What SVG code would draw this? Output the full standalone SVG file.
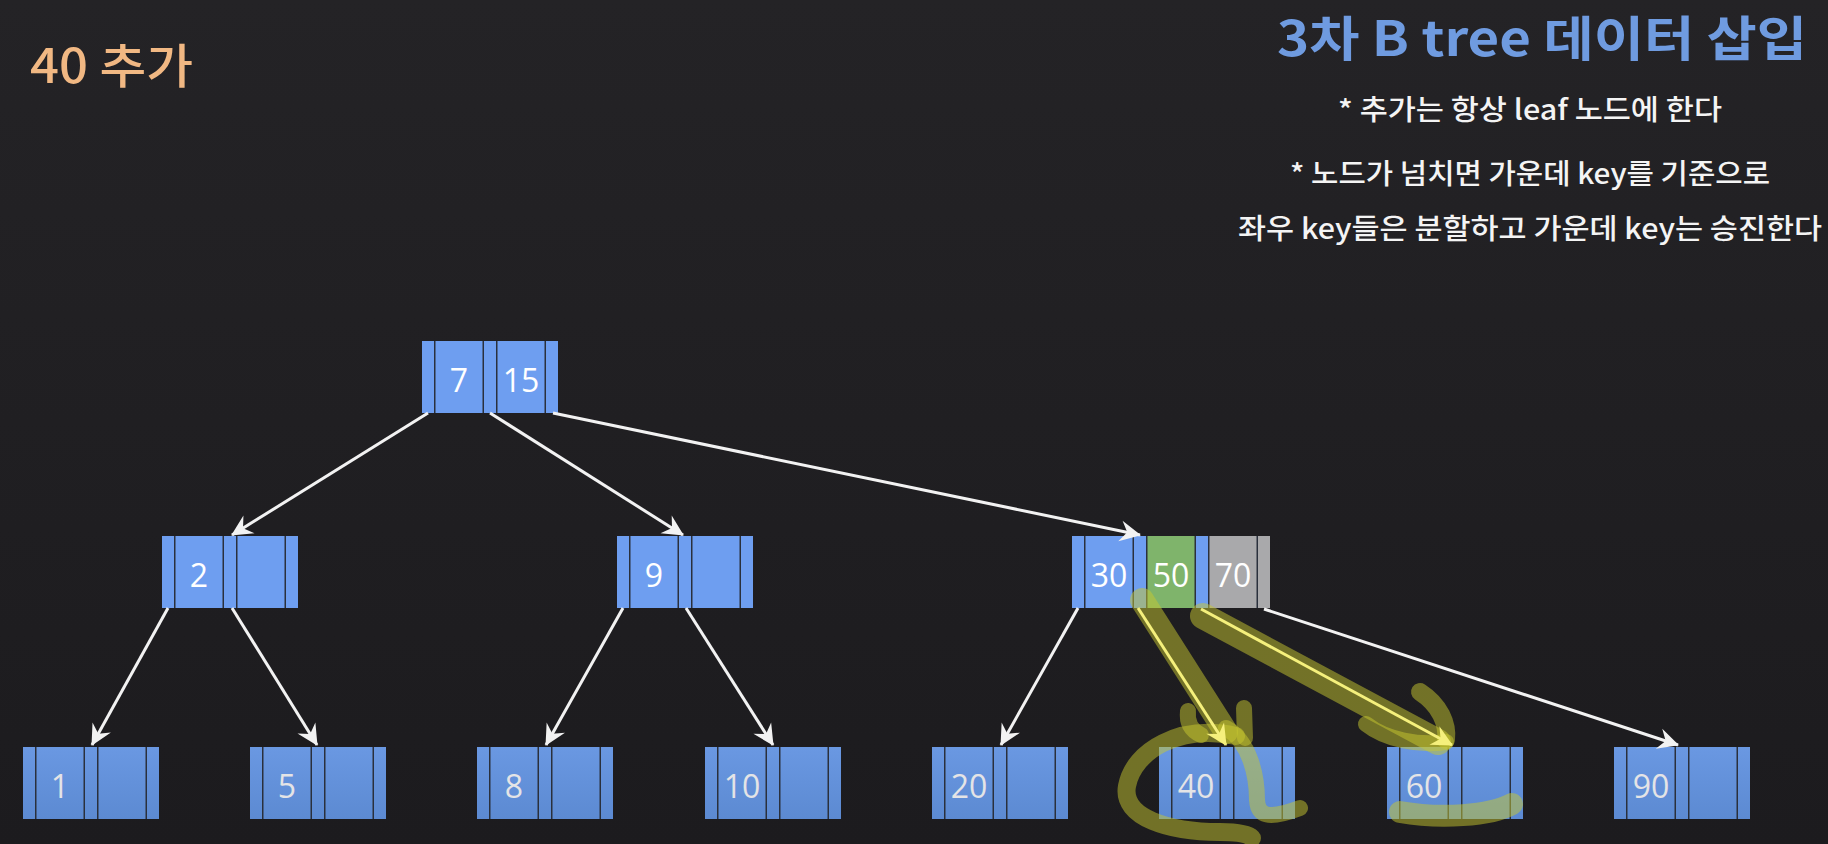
<svg xmlns="http://www.w3.org/2000/svg" width="1828" height="844" viewBox="0 0 1828 844">
<defs>
<linearGradient id="bg" x1="0" y1="0" x2="0" y2="1">
<stop offset="0" stop-color="#242326"/>
<stop offset="1" stop-color="#1c1b1e"/>
</linearGradient>
<linearGradient id="leafg" x1="0" y1="0" x2="0" y2="1">
<stop offset="0" stop-color="#6a98e2"/>
<stop offset="1" stop-color="#5c8ad2"/>
</linearGradient>
<marker id="ah" viewBox="-22 -12 24 24" refX="0" refY="0" markerWidth="24" markerHeight="24" markerUnits="userSpaceOnUse" orient="auto">
<path d="M1,0 L-20,-10.5 L-13,0 L-20,10.5 Z" fill="#f2f2f2"/>
</marker>
<marker id="ahy" viewBox="-22 -12 24 24" refX="0" refY="0" markerWidth="24" markerHeight="24" markerUnits="userSpaceOnUse" orient="auto">
<path d="M1,0 L-20,-10.5 L-13,0 L-20,10.5 Z" fill="#f5f07c"/>
</marker>
<style>
.frame{fill:#2a303c}
.up{fill:#6e9ef0}
.lf{fill:url(#leafg)}
.green{fill:#7fb46b}
.gray{fill:#a9a9ab}
.kt{font-family:"Open Sans","Liberation Sans",sans-serif;font-size:32px;fill:#ffffff;text-anchor:middle}
.lt{font-family:"Open Sans","Liberation Sans",sans-serif;font-size:32px;fill:#e4e4e6;text-anchor:middle}
.edge{stroke:#f2f2f2;stroke-width:3;fill:none;marker-end:url(#ah)}
.yedge{stroke:#f5f07c;stroke-width:3;fill:none;marker-end:url(#ahy)}
.hl{stroke:#c8c830;stroke-opacity:0.5;fill:none;stroke-linecap:round;stroke-linejoin:round}
.note{font-family:"Noto Sans CJK KR","Noto Sans",sans-serif;font-size:28px;font-weight:500;fill:#f4f4f4;text-anchor:middle}
</style>
</defs>
<rect x="0" y="0" width="1828" height="844" fill="url(#bg)"/>

<g id="texts">
<text x="30" y="83" font-family="Noto Sans CJK KR, Noto Sans, sans-serif" font-size="47" font-weight="500" fill="#f1b883" textLength="163" lengthAdjust="spacingAndGlyphs">40 추가</text>
<text x="1277" y="56" font-family="Noto Sans CJK KR, Noto Sans, sans-serif" font-size="48" font-weight="bold" fill="#6f9be0" textLength="530" lengthAdjust="spacingAndGlyphs">3차 B tree 데이터 삽입</text>
<text class="note" x="1530" y="120" textLength="384" lengthAdjust="spacingAndGlyphs">* 추가는 항상 leaf 노드에 한다</text>
<text class="note" x="1530" y="184" textLength="480" lengthAdjust="spacingAndGlyphs">* 노드가 넘치면 가운데 key를 기준으로</text>
<text class="note" x="1530" y="239" textLength="584" lengthAdjust="spacingAndGlyphs">좌우 key들은 분할하고 가운데 key는 승진한다</text>
</g>

<g id="node-root" transform="translate(422,341)">
<rect class="frame" x="0" y="0" width="136" height="72"/>
<rect class="up" x="0" y="0" width="12" height="72"/>
<rect class="up" x="13.5" y="0" width="47" height="72"/>
<rect class="up" x="62" y="0" width="12" height="72"/>
<rect class="up" x="75.5" y="0" width="47" height="72"/>
<rect class="up" x="124" y="0" width="12" height="72"/>
<text class="kt" x="37" y="51">7</text>
<text class="kt" x="99" y="51">15</text>
</g>

<g id="node-2" transform="translate(162,536)">
<rect class="frame" x="0" y="0" width="136" height="72"/>
<rect class="up" x="0" y="0" width="12" height="72"/>
<rect class="up" x="13.5" y="0" width="47" height="72"/>
<rect class="up" x="62" y="0" width="12" height="72"/>
<rect class="up" x="75.5" y="0" width="47" height="72"/>
<rect class="up" x="124" y="0" width="12" height="72"/>
<text class="kt" x="37" y="51">2</text>
</g>

<g id="node-9" transform="translate(617,536)">
<rect class="frame" x="0" y="0" width="136" height="72"/>
<rect class="up" x="0" y="0" width="12" height="72"/>
<rect class="up" x="13.5" y="0" width="47" height="72"/>
<rect class="up" x="62" y="0" width="12" height="72"/>
<rect class="up" x="75.5" y="0" width="47" height="72"/>
<rect class="up" x="124" y="0" width="12" height="72"/>
<text class="kt" x="37" y="51">9</text>
</g>

<g id="node-30-50-70" transform="translate(1072,536)">
<rect class="frame" x="0" y="0" width="198" height="72"/>
<rect class="up" x="0" y="0" width="12" height="72"/>
<rect class="up" x="13.5" y="0" width="47" height="72"/>
<rect class="up" x="62" y="0" width="12" height="72"/>
<rect class="green" x="75.5" y="0" width="47" height="72"/>
<rect class="up" x="124" y="0" width="12" height="72"/>
<rect class="gray" x="137.5" y="0" width="47" height="72"/>
<rect class="gray" x="186" y="0" width="12" height="72"/>
<text class="kt" x="37" y="51">30</text>
<text class="kt" x="99" y="51">50</text>
<text class="kt" x="161" y="51">70</text>
</g>

<g id="leaf-1" transform="translate(23,747)">
<rect class="frame" x="0" y="0" width="136" height="72"/>
<rect class="lf" x="0" y="0" width="12" height="72"/>
<rect class="lf" x="13.5" y="0" width="47" height="72"/>
<rect class="lf" x="62" y="0" width="12" height="72"/>
<rect class="lf" x="75.5" y="0" width="47" height="72"/>
<rect class="lf" x="124" y="0" width="12" height="72"/>
<text class="lt" x="37" y="51">1</text>
</g>

<g id="leaf-5" transform="translate(250,747)">
<rect class="frame" x="0" y="0" width="136" height="72"/>
<rect class="lf" x="0" y="0" width="12" height="72"/>
<rect class="lf" x="13.5" y="0" width="47" height="72"/>
<rect class="lf" x="62" y="0" width="12" height="72"/>
<rect class="lf" x="75.5" y="0" width="47" height="72"/>
<rect class="lf" x="124" y="0" width="12" height="72"/>
<text class="lt" x="37" y="51">5</text>
</g>

<g id="leaf-8" transform="translate(477,747)">
<rect class="frame" x="0" y="0" width="136" height="72"/>
<rect class="lf" x="0" y="0" width="12" height="72"/>
<rect class="lf" x="13.5" y="0" width="47" height="72"/>
<rect class="lf" x="62" y="0" width="12" height="72"/>
<rect class="lf" x="75.5" y="0" width="47" height="72"/>
<rect class="lf" x="124" y="0" width="12" height="72"/>
<text class="lt" x="37" y="51">8</text>
</g>

<g id="leaf-10" transform="translate(705,747)">
<rect class="frame" x="0" y="0" width="136" height="72"/>
<rect class="lf" x="0" y="0" width="12" height="72"/>
<rect class="lf" x="13.5" y="0" width="47" height="72"/>
<rect class="lf" x="62" y="0" width="12" height="72"/>
<rect class="lf" x="75.5" y="0" width="47" height="72"/>
<rect class="lf" x="124" y="0" width="12" height="72"/>
<text class="lt" x="37" y="51">10</text>
</g>

<g id="leaf-20" transform="translate(932,747)">
<rect class="frame" x="0" y="0" width="136" height="72"/>
<rect class="lf" x="0" y="0" width="12" height="72"/>
<rect class="lf" x="13.5" y="0" width="47" height="72"/>
<rect class="lf" x="62" y="0" width="12" height="72"/>
<rect class="lf" x="75.5" y="0" width="47" height="72"/>
<rect class="lf" x="124" y="0" width="12" height="72"/>
<text class="lt" x="37" y="51">20</text>
</g>

<g id="leaf-40" transform="translate(1159,747)">
<rect class="frame" x="0" y="0" width="136" height="72"/>
<rect class="lf" x="0" y="0" width="12" height="72"/>
<rect class="lf" x="13.5" y="0" width="47" height="72"/>
<rect class="lf" x="62" y="0" width="12" height="72"/>
<rect class="lf" x="75.5" y="0" width="47" height="72"/>
<rect class="lf" x="124" y="0" width="12" height="72"/>
<text class="lt" x="37" y="51">40</text>
</g>

<g id="leaf-60" transform="translate(1387,747)">
<rect class="frame" x="0" y="0" width="136" height="72"/>
<rect class="lf" x="0" y="0" width="12" height="72"/>
<rect class="lf" x="13.5" y="0" width="47" height="72"/>
<rect class="lf" x="62" y="0" width="12" height="72"/>
<rect class="lf" x="75.5" y="0" width="47" height="72"/>
<rect class="lf" x="124" y="0" width="12" height="72"/>
<text class="lt" x="37" y="51">60</text>
</g>

<g id="leaf-90" transform="translate(1614,747)">
<rect class="frame" x="0" y="0" width="136" height="72"/>
<rect class="lf" x="0" y="0" width="12" height="72"/>
<rect class="lf" x="13.5" y="0" width="47" height="72"/>
<rect class="lf" x="62" y="0" width="12" height="72"/>
<rect class="lf" x="75.5" y="0" width="47" height="72"/>
<rect class="lf" x="124" y="0" width="12" height="72"/>
<text class="lt" x="37" y="51">90</text>
</g>

<g id="highlights">
<path class="hl" stroke-width="24" d="M1142,600 L1226,732"/>
<path class="hl" stroke-width="26" d="M1203,616 L1438,742"/>
<path class="hl" stroke-width="16" d="M1188,711 Q1186,728 1201,735"/>
<path class="hl" stroke-width="16" d="M1244,708 L1245,738"/>
<path class="hl" stroke-width="18" d="M1236,736 C1180,724 1134,750 1127,786 C1121,818 1170,832 1220,832 C1238,832 1248,834 1252,838"/>
<path class="hl" stroke-width="16" d="M1226,728 C1250,742 1257,776 1257,800 C1258,816 1268,820 1300,808"/>
<path class="hl" stroke-width="18" d="M1420,692 C1440,705 1448,724 1446,740"/>
<path class="hl" stroke-width="16" d="M1366,724 C1386,740 1420,746 1446,742"/>
<path class="hl" stroke-width="22" d="M1400,812 C1440,819 1490,816 1512,804"/>
</g>

<g id="connectors">
<line class="edge" x1="428" y1="413" x2="232" y2="535"/>
<line class="edge" x1="490" y1="413" x2="683" y2="535"/>
<line class="edge" x1="553" y1="413" x2="1140" y2="535"/>
<line class="edge" x1="168" y1="608" x2="92" y2="745"/>
<line class="edge" x1="232" y1="608" x2="317" y2="745"/>
<line class="edge" x1="623" y1="608" x2="546" y2="745"/>
<line class="edge" x1="686" y1="608" x2="773" y2="745"/>
<line class="edge" x1="1078" y1="608" x2="1001" y2="745"/>
<line class="yedge" x1="1138" y1="608" x2="1226" y2="745"/>
<line class="yedge" x1="1201" y1="609" x2="1452" y2="745"/>
<line class="edge" x1="1264" y1="609" x2="1678" y2="745"/>
</g>
</svg>
